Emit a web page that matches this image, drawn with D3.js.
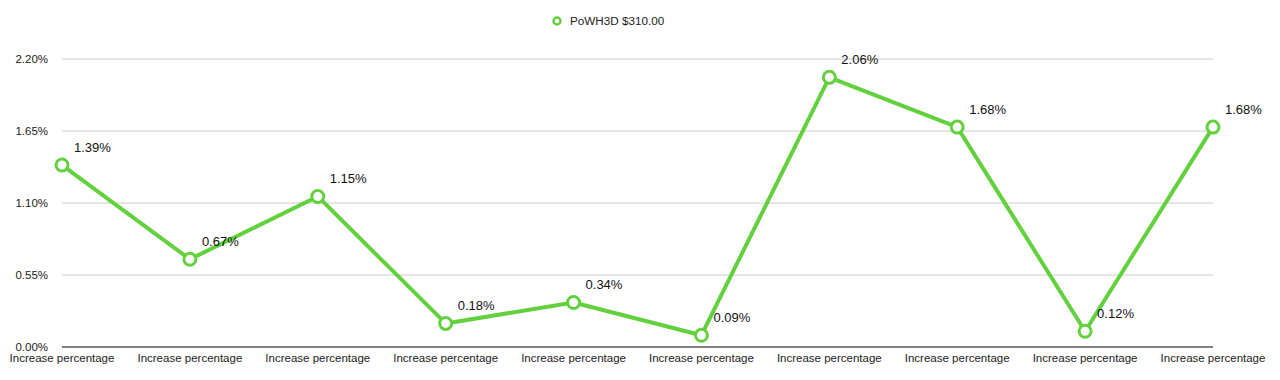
<!DOCTYPE html>
<html><head><meta charset="utf-8">
<script src="https://cdn.jsdelivr.net/npm/d3@7"></script>
<style>body{margin:0;background:#fff;}svg{display:block;font-family:"Liberation Sans",Arial,Helvetica,sans-serif;}</style>
</head><body><svg id="c" width="1280" height="380"></svg>
<script>
const categories = ["Increase percentage","Increase percentage","Increase percentage","Increase percentage","Increase percentage","Increase percentage","Increase percentage","Increase percentage","Increase percentage","Increase percentage"];
const values = [1.39, 0.67, 1.15, 0.18, 0.34, 0.09, 2.06, 1.68, 0.12, 1.68];
const yTicks = [0, 0.55, 1.10, 1.65, 2.20];
const seriesName = "PoWH3D $310.00";
const color = "#63d13e";

const svg = d3.select("#c");
const x = d3.scalePoint().domain(d3.range(values.length)).range([62, 1213]);
const y = d3.scaleLinear().domain([0, 2.2]).range([347, 59]);

// grid
svg.append("g").selectAll("line").data(yTicks.filter(d => d > 0)).join("line")
  .attr("x1", 62).attr("x2", 1213).attr("y1", d => y(d)).attr("y2", d => y(d))
  .attr("stroke", "#cccccc").attr("stroke-width", 1);
svg.append("line").attr("x1", 62).attr("x2", 1213).attr("y1", y(0)).attr("y2", y(0))
  .attr("stroke", "#555").attr("stroke-width", 1.5);

// y labels
svg.append("g").selectAll("text").data(yTicks).join("text")
  .attr("x", 48).attr("y", d => y(d)).attr("dy", "0.35em").attr("text-anchor", "end")
  .attr("font-size", 11.5).attr("fill", "#222").text(d => d.toFixed(2) + "%");

// x labels
svg.append("g").selectAll("text").data(categories).join("text")
  .attr("x", (d, i) => x(i)).attr("y", 362).attr("text-anchor", "middle")
  .attr("font-size", 11.5).attr("fill", "#222").text(d => d);

// line
const line = d3.line().x((d, i) => x(i)).y(d => y(d));
svg.append("path").datum(values).attr("d", line).attr("fill", "none")
  .attr("stroke", color).attr("stroke-width", 4).attr("stroke-linejoin", "round");

svg.append("g").selectAll("circle").data(values).join("circle")
  .attr("cx", (d, i) => x(i)).attr("cy", d => y(d)).attr("r", 6)
  .attr("fill", "#fff").attr("stroke", color).attr("stroke-width", 3);

// value labels
svg.append("g").selectAll("text").data(values).join("text")
  .attr("x", (d, i) => x(i) + 12).attr("y", d => y(d) - 18).attr("dy", "0.35em")
  .attr("font-size", 13).attr("fill", "#111").text(d => d.toFixed(2) + "%");

// legend
const lg = svg.append("g");
lg.append("circle").attr("cx", 557).attr("cy", 21).attr("r", 3.5).attr("fill", "#fff")
  .attr("stroke", color).attr("stroke-width", 2.5);
lg.append("text").attr("x", 570).attr("y", 21).attr("dy", "0.35em")
  .attr("font-size", 11.7).attr("fill", "#222").text(seriesName);
</script></body></html>
